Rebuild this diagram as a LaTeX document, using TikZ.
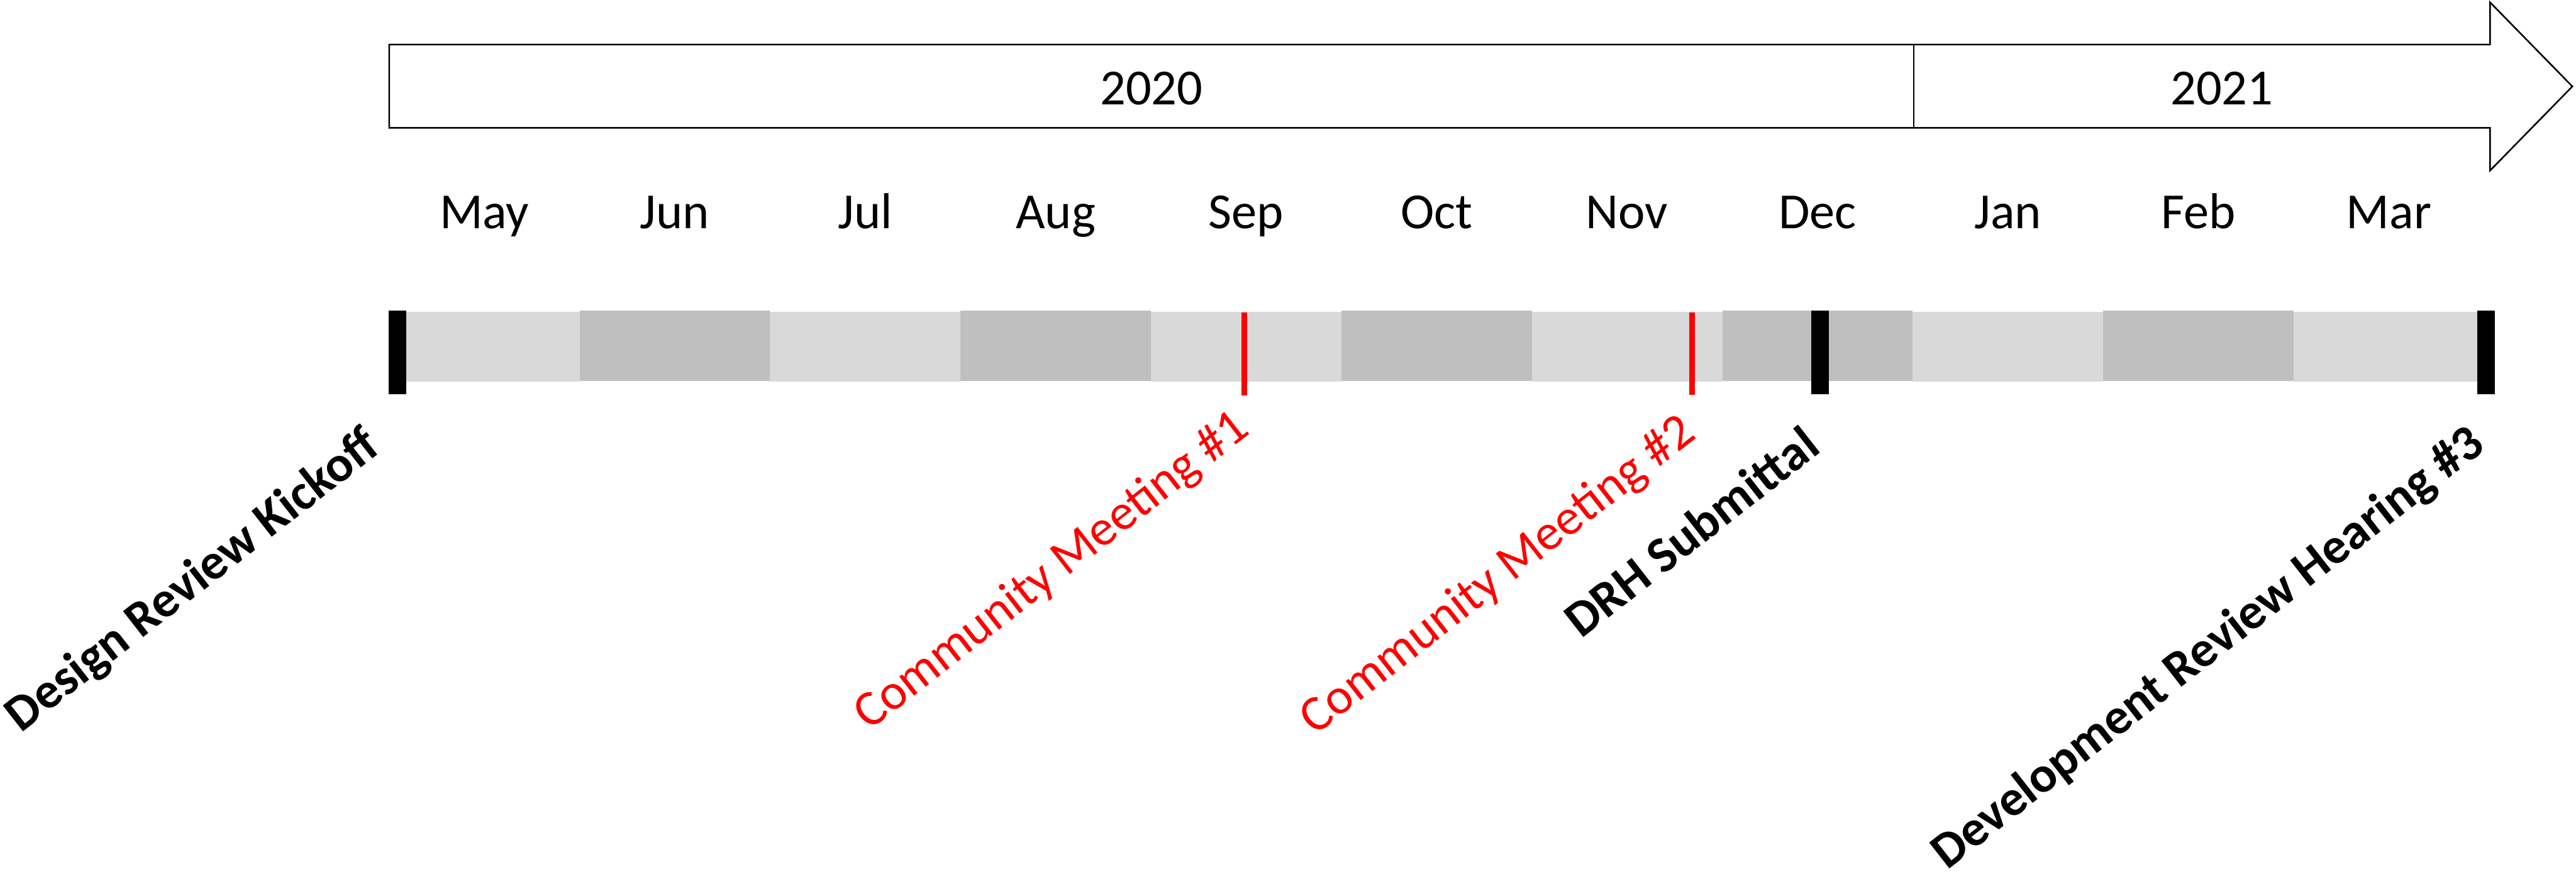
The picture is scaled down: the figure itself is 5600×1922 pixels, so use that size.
\documentclass[tikz,border=0pt]{standalone}
\usepackage{fontspec}
\setmainfont{Carlito}
\definecolor{lightband}{HTML}{D9D9D9}
\definecolor{darkband}{HTML}{BFBFBF}
\definecolor{msred}{HTML}{FF0000}
\begin{document}
\begin{tikzpicture}[x=0.1pt,y=-0.1pt,
  lbl/.style={font=\fontsize{11pt}{13pt}\selectfont, inner sep=0pt},
  milestone/.style={inner sep=0pt, font=\fontsize{11pt}{13pt}\selectfont\bfseries, rotate=38, anchor=base east},
  redlbl/.style={inner sep=0pt, font=\fontsize{11pt}{13pt}\selectfont, text=msred, rotate=38, anchor=base east},
  outline/.style={draw=black, line width=0.35pt, line join=miter},
  markbar/.style={fill=black},
  redmark/.style={fill=msred}]
\fill[white] (0,0) rectangle (5600,1922);
\useasboundingbox (0,0) rectangle (5600,1922);

% top arrow
\draw[outline] (846,97) -- (5413,97) -- (5413,5) -- (5592,188) -- (5413,371) -- (5413,278) -- (846,278) -- cycle;
\draw[line width=0.25pt] (4160,97) -- (4160,278);
\node[lbl, anchor=base] (y2020) at (2503,227) {2020};
\node[lbl, anchor=base] (y2021) at (4830,227) {2021};

% month bands and labels
\foreach \m [count=\i from 0] in {May,Jun,Jul,Aug,Sep,Oct,Nov,Dec,Jan,Feb,Mar} {
  \ifodd\i
    \fill[darkband] (846+414*\i,676) rectangle ++(414,152);
  \else
    \fill[lightband] (846+414*\i,678) rectangle ++(414,152);
  \fi
  \node[lbl, anchor=base] (month-\m) at (1053+414*\i,497) {\m};
}

% milestone markers
\fill[markbar] (845,676) rectangle (883,857);
\fill[markbar] (3937,676) rectangle (3976,857);
\fill[markbar] (5385,676) rectangle (5423,857);
\fill[redmark] (2699,679) rectangle (2711,860);
\fill[redmark] (3672,679) rectangle (3685,858);

% milestone labels
\node[milestone] (kickoff) at (832,980) {Design Review Kickoff};
\node[redlbl] (cm1) at (2722,940) {Community Meeting \#1};
\node[redlbl] (cm2) at (3692,950) {Community Meeting \#2};
\node[milestone] (drh) at (3963,980) {DRH Submittal};
\node[milestone] (hearing) at (5408,975) {Development Review Hearing \#3};
\end{tikzpicture}
\end{document}
